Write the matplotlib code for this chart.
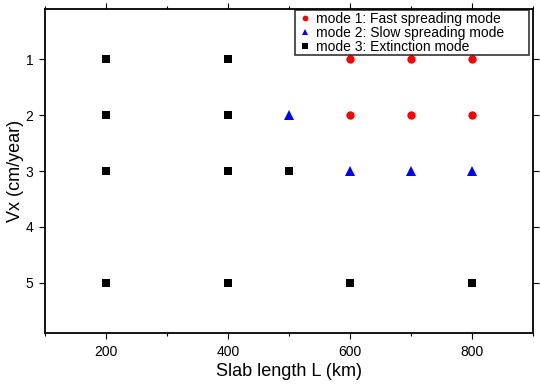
import matplotlib
matplotlib.use('Agg')
import matplotlib.pyplot as plt
from matplotlib.ticker import MultipleLocator

plt.rcParams['font.family'] = ['Liberation Sans', 'DejaVu Sans']

# ==================== 数据 ====================
# mode 1: Fast spreading mode
fast_L = [600, 700, 800, 600, 700, 800]
fast_vx = [1, 1, 1, 2, 2, 2]

# mode 2: Slow spreading mode
slow_L = [500, 600, 700, 800]
slow_vx = [2, 3, 3, 3]

# mode 3: Extinction mode
ext_L = [200, 400, 200, 400, 200, 400, 500, 200, 400, 600, 800]
ext_vx = [1, 1, 2, 2, 3, 3, 3, 5, 5, 5, 5]

x_ticks = [200, 400, 600, 800]
y_ticks = [1, 2, 3, 4, 5]

# ==================== 绘图 ====================
fig = plt.figure(figsize=(5.4, 3.85), dpi=100)
ax = fig.add_axes([45 / 540, 52 / 385, 488 / 540, 324 / 385])

ax.plot(fast_L, fast_vx, 'o', color='#ff0000', markersize=6, markeredgewidth=0,
        label='mode 1: Fast spreading mode')
ax.plot(slow_L, slow_vx, '^', color='#0000ff', markersize=6.5, markeredgewidth=0,
        label='mode 2: Slow spreading mode')
ax.plot(ext_L, ext_vx, 's', color='black', markersize=5.5, markeredgewidth=0,
        label='mode 3: Extinction mode')

ax.set_xlim(100, 900)
ax.set_ylim(5.9, 0.1)
ax.set_xticks(x_ticks)
ax.xaxis.set_minor_locator(MultipleLocator(100))
ax.set_yticks(y_ticks)

ax.tick_params(which='major', direction='out', length=4.5, width=0.8,
               top=True, right=True, labelsize=10, pad=4, colors='black')
ax.tick_params(which='minor', direction='out', length=2, width=0.8,
               top=True, right=False, left=False)

for s in ax.spines.values():
    s.set_linewidth(1.3)

ax.set_xlabel('Slab length L (km)', fontsize=13, labelpad=3)
ax.set_ylabel('Vx (cm/year)', fontsize=13, labelpad=1)

# 图例：固定宽度（GMT 风格），贴在右上角
leg = ax.legend(loc='upper left', bbox_to_anchor=(0.512, 0.0, 0.48, 0.997),
                mode='expand', borderaxespad=0,
                fontsize=10, frameon=True, fancybox=False, markerscale=0.7,
                handlelength=1.2, handletextpad=0.2, labelspacing=0.0,
                borderpad=0.12)
leg.get_frame().set_edgecolor('black')
leg.get_frame().set_linewidth(1.2)

plt.savefig('out.png', dpi=100)
plt.close()
